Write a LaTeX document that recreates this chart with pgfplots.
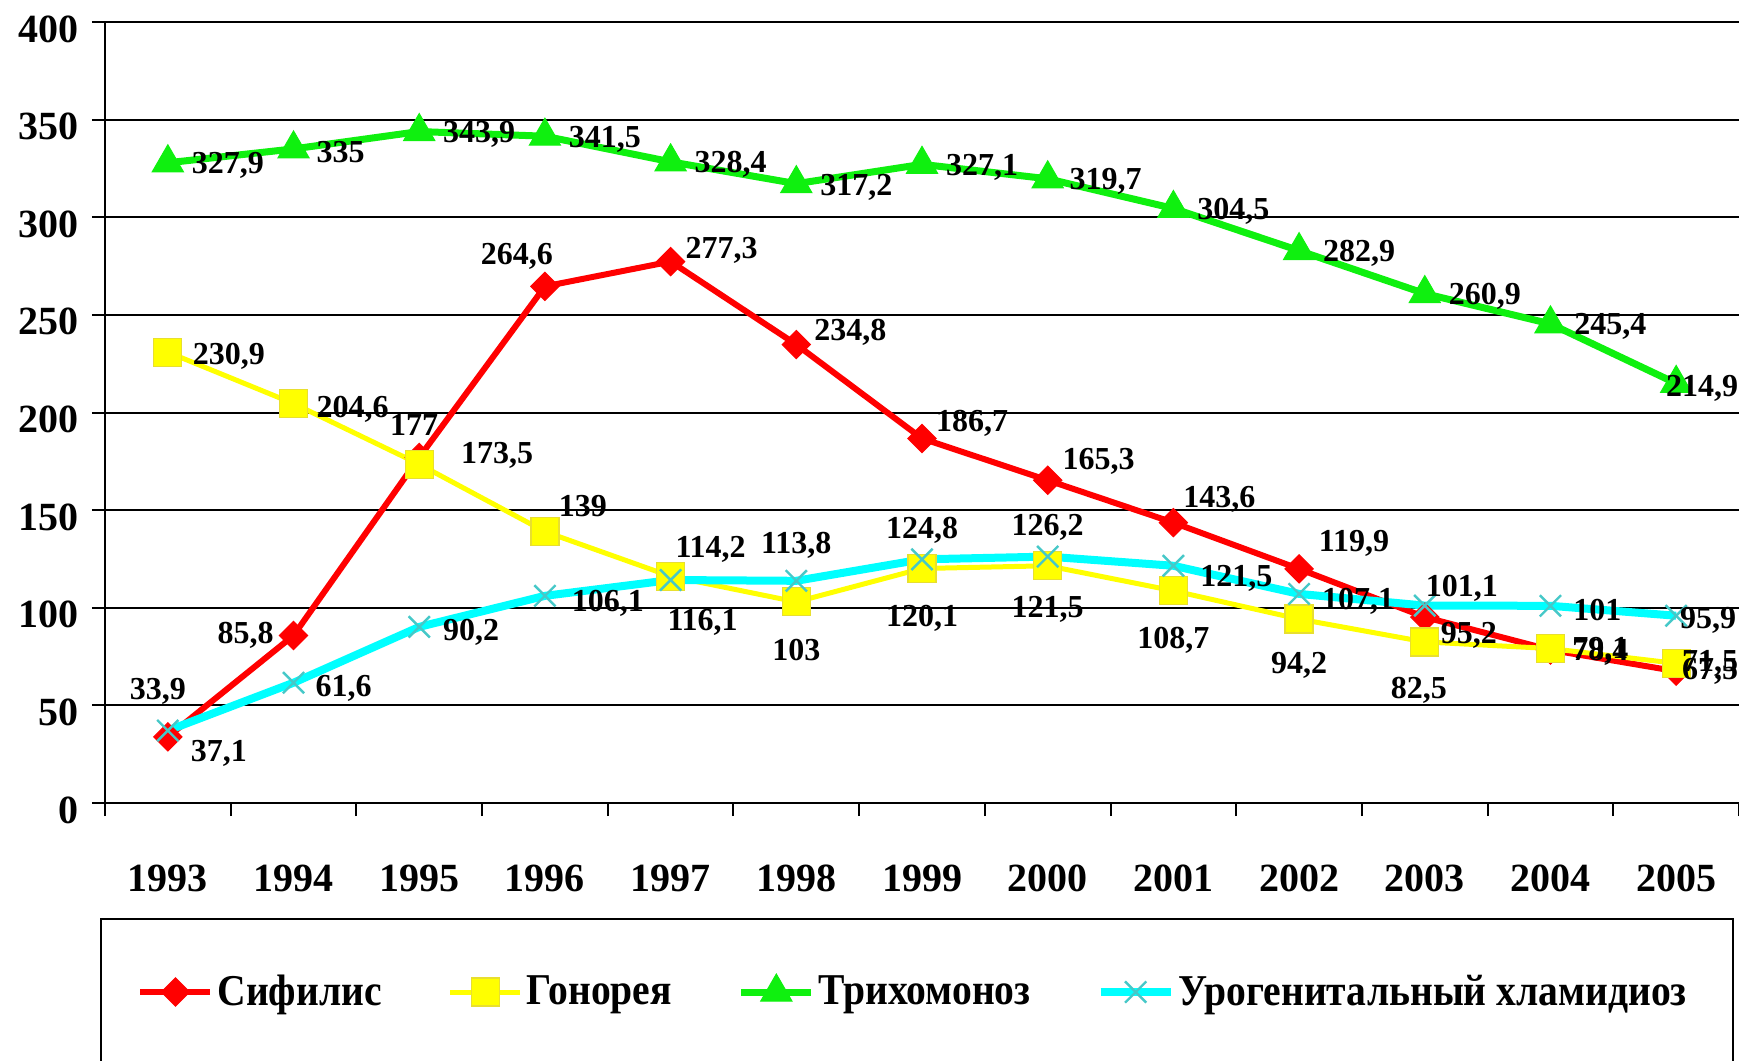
\documentclass[border=0pt]{standalone}
\usepackage{pgfplots}
\pgfplotsset{compat=1.18}
\usepackage{pgfplotstable}
\usepackage{fontspec}
\setmainfont{Liberation Serif}
\newfontfamily\legfont{Liberation Serif}[FakeStretch=0.9]

\definecolor{sred}{RGB}{255,0,0}
\definecolor{syel}{RGB}{255,255,0}
\definecolor{sgrn}{RGB}{15,240,15}
\definecolor{scyan}{RGB}{0,255,255}
\definecolor{steal}{RGB}{70,200,200}

% x = category index (0 = 1993), dx/dy = label centre offset in px (dy downwards)
\pgfplotstableread{
x y lab dx dy
0 33.9 33,9 -10 -45
1 85.8 85,8 -48 0
2 177 177 -5 -32
3 264.6 264,6 -28 -30
4 277.3 277,3 51 -11
5 234.8 234,8 54 -12
6 186.7 186,7 50 -15
7 165.3 165,3 51 -19
8 143.6 143,6 46 -23
9 119.9 119,9 55 -26
10 95.2 95,2 44 18
11 78.4 78,4 50 2
12 67.5 67,5 34 0
}\sif
\pgfplotstableread{
x y lab dx dy
0 230.9 230,9 61 4
1 204.6 204,6 59 6
2 173.5 173,5 78 -9
3 139 139 38 -26
4 116.1 116,1 32 46
5 103 103 0 48
6 120.1 120,1 0 50
7 121.5 121,5 0 44
8 108.7 108,7 0 50
9 94.2 94,2 0 46
10 82.5 82,5 -6 48
11 79.1 79,1 50 2
12 71.5 71,5 34 0
}\gon
\pgfplotstableread{
x y lab dx dy
0 327.9 327,9 60 3
1 335 335 47 3
2 343.9 343,9 60 3
3 341.5 341,5 60 3
4 328.4 328,4 60 3
5 317.2 317,2 60 4
6 327.1 327,1 60 3
7 319.7 319,7 58 3
8 304.5 304,5 60 3
9 282.9 282,9 60 3
10 260.9 260,9 60 3
11 245.4 245,4 60 3
12 214.9 214,9 26 5
}\tri
\pgfplotstableread{
x y lab dx dy
0 37.1 37,1 51 23
1 61.6 61,6 50 6
2 90.2 90,2 52 5
3 106.1 106,1 63 7
4 114.2 114,2 40 -31
5 113.8 113,8 0 -35
6 124.8 124,8 0 -29
7 126.2 126,2 0 -29
8 121.5 121,5 63 13
9 107.1 107,1 59 7
10 101.1 101,1 37 -17
11 101 101 47 4
12 95.9 95,9 32 5
}\uro

\pgfplotsset{
  dlabels/.style={draw=none, mark=none, forget plot,
    nodes near coords, point meta=explicit symbolic,
    visualization depends on={0.5*\thisrow{dx} \as \dx},
    visualization depends on={-0.5*\thisrow{dy} \as \dy},
    every node near coord/.append style={anchor=center, xshift=\dx pt, yshift=\dy pt,
      font=\fontsize{16}{18}\selectfont\bfseries, inner sep=0pt, text=black}},
}

\begin{document}
\begin{tikzpicture}
\useasboundingbox (-52.5pt,-128.5pt) rectangle (817pt,401.5pt);
\clip (-52.5pt,-128.5pt) rectangle (817pt,401.5pt);
\begin{axis}[
  at={(0pt,0pt)}, anchor=south west,
  scale only axis, width=817pt, height=390.5pt,
  xmin=-0.5, xmax=12.5, ymin=0, ymax=400,
  axis lines*=left,
  axis line style={black, line width=1pt},
  xtick={-0.5,0.5,...,12.5},
  xticklabels={1993,1994,1995,1996,1997,1998,1999,2000,2001,2002,2003,2004,2005},
  x tick label as interval,
  ytick={0,50,...,400},
  ymajorgrids, grid style={black, line width=1pt},
  tick align=outside, major tick length=6.5pt,
  tick style={black, line width=1pt},
  /pgf/number format/assume math mode=true,
  ticklabel style={font=\fontsize{20}{24}\selectfont\bfseries},
  xticklabel style={yshift=-21pt},
  yticklabel style={xshift=-3.3pt, yshift=-3.5pt},
  clip=false,
  legend columns=4,
  legend cell align=left,
  legend style={draw=none, fill=none, at={(axis description cs:0.0196,-0.242)}, anchor=west,
    inner sep=0pt, font=\fontsize{22}{26}\legfont\bfseries,
    /tikz/every even column/.append style={column sep=31pt}},
  legend image code/.code={\draw[#1, mark repeat=2, mark phase=2] plot coordinates {(0pt,0pt) (17.5pt,0pt) (35pt,0pt)};},
]
\addplot[sred, line width=3pt, mark=square*, mark size=5pt,
  mark options={rotate=45, fill=sred, draw=sred, line width=0.5pt}] table[x=x,y=y] {\sif};
\addlegendentry{Сифилис}
\addplot[syel, line width=2.5pt, mark=square*, mark size=7pt,
  mark options={fill=syel, draw=yellow!80!gray, line width=0.6pt}] table[x=x,y=y] {\gon};
\addlegendentry{Гонорея}
\addplot[sgrn, line width=3.5pt, mark=triangle*, mark size=9pt,
  mark options={fill=sgrn, draw=sgrn, line width=0.5pt}] table[x=x,y=y] {\tri};
\addlegendentry{Трихомоноз}
\addplot[scyan, line width=4pt, mark=x, mark size=7.5pt,
  mark options={draw=steal, line width=1.2pt}] table[x=x,y=y] {\uro};
\addlegendentry{Урогенитальный хламидиоз}

\addplot[dlabels] table[x=x,y=y,meta=lab] {\sif};
\addplot[dlabels] table[x=x,y=y,meta=lab] {\gon};
\addplot[dlabels] table[x=x,y=y,meta=lab] {\tri};
\addplot[dlabels] table[x=x,y=y,meta=lab] {\uro};

\draw[black, line width=1pt] (axis description cs:-0.00245,-0.1485) rectangle (axis description cs:0.9963,-0.45);
\end{axis}
\end{tikzpicture}
\end{document}
